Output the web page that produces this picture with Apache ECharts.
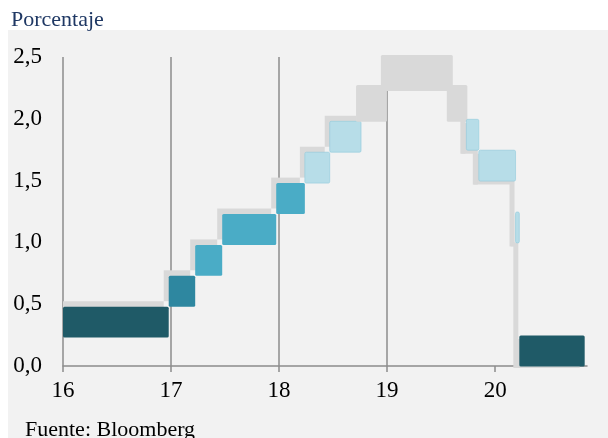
<!DOCTYPE html>
<html>
<head>
<meta charset="utf-8">
<script src="https://cdn.jsdelivr.net/npm/echarts@6/dist/echarts.min.js"></script>
<style>
html, body { margin: 0; padding: 0; background: #fff; }
#wrap { position: relative; width: 608px; height: 438px; }
#panel { position: absolute; left: 8px; top: 30px; width: 600px; height: 408px; background: #f2f2f2; }
#main { position: absolute; left: 0; top: 0; width: 608px; height: 438px; }
</style>
</head>
<body>
<div id="wrap"><div id="panel"></div><div id="main"></div></div>
<script>
// target range of the fed funds rate, x = year (2-digit, decimal)
var starts = [15.96, 16.96, 17.205, 17.455, 17.955, 18.22, 18.45, 18.74, 18.97, 19.58, 19.715, 19.83, 20.17, 20.205];
var ends   = [16.96, 17.205, 17.455, 17.955, 18.22, 18.45, 18.74, 18.97, 19.58, 19.715, 19.83, 20.17, 20.205, 20.81];
var lows   = [0.25, 0.5, 0.75, 1.0, 1.25, 1.5, 1.75, 2.0, 2.25, 2.0, 1.75, 1.5, 1.0, 0.0];
var highs  = [0.5, 0.75, 1.0, 1.25, 1.5, 1.75, 2.0, 2.25, 2.5, 2.25, 2.0, 1.75, 1.25, 0.25];
var shade  = [0, 1, 2, 2, 2, 3, 3, 4, 4, 4, 3, 3, 3, 0];
var xTicks = [16, 17, 18, 19, 20];

var palette = ['#1f5a67', '#2e87a0', '#4aacc6', '#b7dde8', '#d9d9d9'];
var gray = '#d9d9d9';
var axisGray = '#8c8c8c';
var font = '"Liberation Serif", "Times New Roman", serif';

var chart = echarts.init(document.getElementById('main'));

var bands = starts.map(function (s, i) {
    return [s, ends[i], lows[i], highs[i]];
});

function clipTo(params, rect) {
    var cs = params.coordSys;
    return echarts.graphic.clipRectByRect(rect, {
        x: cs.x, y: cs.y - 2, width: cs.width + 4, height: cs.height + 4
    });
}

function isFalling(i) {
    return i > 0 && lows[i] < lows[i - 1];
}

// gray "shadow" staircase behind the bands
function renderShadow(params, api) {
    var i = params.dataIndex;
    if (shade[i] === 4) return null;
    var a = api.coord([api.value(0), api.value(3)]);
    var b = api.coord([api.value(1), api.value(2)]);
    var falling = isFalling(i);
    var dy = falling ? 4 : -3;
    var children = [];
    var r = clipTo(params, {x: a[0] - 3, y: a[1] + dy, width: b[0] - a[0], height: b[1] - a[1]});
    if (r) children.push({type: 'rect', shape: r, style: {fill: gray}});
    if (falling) {
        var prev = api.coord([api.value(0), lows[i - 1]]);
        var s = clipTo(params, {x: a[0] - 4, y: prev[1], width: 5, height: b[1] + dy - prev[1]});
        if (s) children.push({type: 'rect', shape: s, style: {fill: gray}});
    }
    return {type: 'group', children: children};
}

function renderBand(params, api) {
    var i = params.dataIndex;
    var a = api.coord([api.value(0), api.value(3)]);
    var b = api.coord([api.value(1), api.value(2)]);
    var rect;
    if (shade[i] === 4) {
        rect = {x: a[0] - 3, y: a[1] - 3, width: b[0] - a[0] + 6, height: b[1] - a[1] + 6};
    } else {
        rect = {x: a[0] + 2, y: a[1] + (isFalling(i) ? 0.5 : 2.5), width: b[0] - a[0], height: b[1] - a[1]};
    }
    rect = clipTo(params, rect);
    if (!rect) return null;
    rect.r = 1.5;
    var style = {fill: palette[shade[i]]};
    if (shade[i] === 3) {
        style.stroke = '#8fcadb';
        style.lineWidth = 0.6;
    }
    return {type: 'rect', shape: rect, style: style};
}

var option = {
    animation: false,
    title: [{
        text: 'Porcentaje',
        left: 6, top: 4,
        textStyle: {fontFamily: font, fontSize: 22, fontWeight: 'normal', color: '#1f3864'}
    }, {
        text: 'Fuente: Bloomberg',
        left: 20, top: 414,
        textStyle: {fontFamily: font, fontSize: 22, fontWeight: 'normal', color: '#000'}
    }],
    grid: {left: 63, right: 21, top: 57, bottom: 72},
    xAxis: {
        type: 'value',
        min: 16, max: 20.85, interval: 1,
        axisLine: {show: true, onZero: false, lineStyle: {color: axisGray, width: 1.5}},
        axisTick: {show: true, length: 6, customValues: xTicks, lineStyle: {color: axisGray, width: 1.5}},
        splitLine: {show: true, showMaxLine: false, lineStyle: {color: axisGray, width: 1.5}},
        axisLabel: {
            customValues: xTicks,
            margin: 13,
            fontFamily: font, fontSize: 23, color: '#000',
            formatter: function (v) { return String(v); }
        }
    },
    yAxis: {
        type: 'value',
        min: 0, max: 2.5, interval: 0.5,
        axisLine: {show: false},
        axisTick: {show: false},
        splitLine: {show: false},
        axisLabel: {
            margin: 21,
            fontFamily: font, fontSize: 23, color: '#000',
            formatter: function (v) { return v.toFixed(1).replace('.', ','); }
        }
    },
    series: [{
        type: 'custom',
        renderItem: renderShadow,
        encode: {x: [0, 1], y: [2, 3]},
        data: bands,
        z: 2
    }, {
        type: 'custom',
        renderItem: renderBand,
        encode: {x: [0, 1], y: [2, 3]},
        data: bands,
        z: 3
    }]
};

chart.setOption(option);
</script>
</body>
</html>
